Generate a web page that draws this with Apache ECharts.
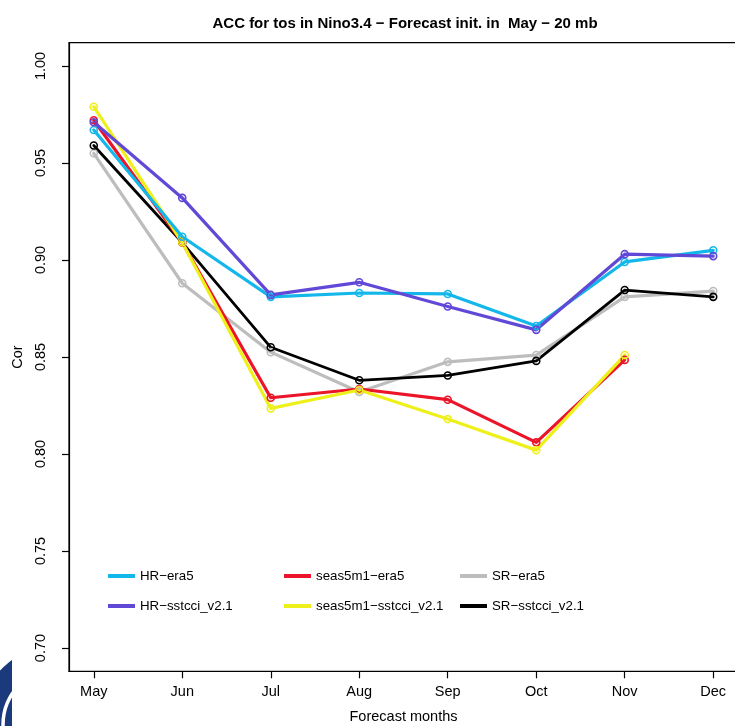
<!DOCTYPE html>
<html>
<head>
<meta charset="utf-8">
<script src="https://cdn.jsdelivr.net/npm/echarts@6/dist/echarts.min.js"></script>
<style>
html,body{margin:0;padding:0;background:#fff;}
#chart{width:735px;height:726px;}
</style>
</head>
<body>
<div id="chart"></div>
<script>
// ---- data ----
var months = ['May', 'Jun', 'Jul', 'Aug', 'Sep', 'Oct', 'Nov', 'Dec'];
var yTicks = [0.70, 0.75, 0.80, 0.85, 0.90, 0.95, 1.00];
var seriesNames = ['HR\u2212era5', 'HR\u2212sstcci_v2.1', 'seas5m1\u2212era5', 'seas5m1\u2212sstcci_v2.1', 'SR\u2212era5', 'SR\u2212sstcci_v2.1'];
var hrEra5   = [0.967, 0.912, 0.881, 0.883, 0.8825, 0.866, 0.899, 0.905];
var hrSst    = [0.971, 0.932, 0.882, 0.8885, 0.876, 0.864, 0.903, 0.902];
var seasEra5 = [0.972, 0.909, 0.829, 0.8335, 0.828, 0.806, 0.8485, null];
var seasSst  = [0.979, 0.909, 0.8235, 0.833, 0.818, 0.802, 0.851, null];
var srEra5   = [0.955, 0.888, 0.8525, 0.832, 0.8475, 0.851, 0.881, 0.884];
var srSst    = [0.959, 0.909, 0.855, 0.838, 0.8405, 0.848, 0.8845, 0.881];

var colors = {};
colors[seriesNames[0]] = '#13B7E9';
colors[seriesNames[1]] = '#6248D6';
colors[seriesNames[2]] = '#EC1428';
colors[seriesNames[3]] = '#EEF01C';
colors[seriesNames[4]] = '#BDBDBD';
colors[seriesNames[5]] = '#000000';

var valuesByName = {};
valuesByName[seriesNames[0]] = hrEra5;
valuesByName[seriesNames[1]] = hrSst;
valuesByName[seriesNames[2]] = seasEra5;
valuesByName[seriesNames[3]] = seasSst;
valuesByName[seriesNames[4]] = srEra5;
valuesByName[seriesNames[5]] = srSst;

var FONT = 'Liberation Sans, Arial, Helvetica, sans-serif';
var drawOrder = [seriesNames[4], seriesNames[5], seriesNames[2], seriesNames[3], seriesNames[0], seriesNames[1]];

function makeSeries(name) {
  var vals = valuesByName[name];
  var data = [];
  for (var i = 0; i < vals.length; i++) {
    if (vals[i] !== null) data.push([i, vals[i]]);
  }
  var c = colors[name];
  return {
    name: name,
    type: 'line',
    data: data,
    symbol: 'circle',
    symbolSize: 7,
    color: c,
    lineStyle: { color: c, width: name === seriesNames[5] ? 2.8 : 3.2, cap: 'round', join: 'round' },
    itemStyle: { color: 'rgba(0,0,0,0)', borderColor: c, borderWidth: 1.6 },
    emphasis: { disabled: true },
    animation: false
  };
}

function legendItem(name) {
  return { name: name, icon: 'rect', itemStyle: { color: colors[name], borderWidth: 0 } };
}
function makeLegend(left, names) {
  return {
    left: left, top: 564, orient: 'vertical',
    itemWidth: 27, itemHeight: 4, itemGap: 16,
    selectedMode: false,
    data: names.map(legendItem),
    textStyle: { fontFamily: FONT, fontSize: 13.3, color: '#000', lineHeight: 14 }
  };
}

// logo fragment at bottom-left corner
var graphics = [
  { type: 'circle', z: -20, shape: { cx: 60, cy: 725, r: 81 }, style: { fill: '#1B3A7C' } },
  { type: 'circle', z: -19, shape: { cx: 60, cy: 725, r: 57 }, style: { fill: 'none', stroke: '#ffffff', lineWidth: 3.5 } },
  { type: 'rect', z: -18, shape: { x: 12, y: 630, width: 160, height: 96 }, style: { fill: '#ffffff' } }
];

var chart = echarts.init(document.getElementById('chart'), null, { renderer: 'canvas' });
chart.setOption({
  animation: false,
  backgroundColor: '#ffffff',
  title: {
    text: 'ACC for tos in Nino3.4 \u2212 Forecast init. in  May \u2212 20 mb',
    left: 400, top: 11, textAlign: 'center',
    textStyle: { fontFamily: FONT, fontSize: 15, fontWeight: 'bold', color: '#000' }
  },
  graphic: graphics,
  grid: { left: 69, top: 42.7, width: 669, height: 628.6, show: true, borderColor: '#000', borderWidth: 1.2,
    backgroundColor: 'transparent', containLabel: false, outerBoundsMode: 'none' },
  legend: [
    makeLegend(103, [seriesNames[0], seriesNames[1]]),
    makeLegend(279, [seriesNames[2], seriesNames[3]]),
    makeLegend(455, [seriesNames[4], seriesNames[5]])
  ],
  xAxis: {
    type: 'value', min: -0.28, max: 7.28,
    name: 'Forecast months', nameLocation: 'middle', nameGap: 38,
    nameTextStyle: { fontFamily: FONT, fontSize: 14.5, color: '#000' },
    axisLine: { show: true, onZero: false, lineStyle: { color: '#000', width: 1.2 } },
    axisTick: { show: true, length: 7, lineStyle: { color: '#000', width: 1.2 }, customValues: months.map(function (m, i) { return i; }) },
    axisLabel: { show: true, margin: 13, fontFamily: FONT, fontSize: 14.5, color: '#000',
      customValues: months.map(function (m, i) { return i; }),
      formatter: function (v) { return months[Math.round(v)]; } },
    splitLine: { show: false }
  },
  yAxis: {
    type: 'value', min: 0.688, max: 1.012,
    name: 'Cor', nameLocation: 'middle', nameGap: 43, nameRotate: 90,
    nameTextStyle: { fontFamily: FONT, fontSize: 14.5, color: '#000' },
    axisLine: { show: true, onZero: false, lineStyle: { color: '#000', width: 1.2 } },
    axisTick: { show: true, length: 7, lineStyle: { color: '#000', width: 1.2 }, customValues: yTicks },
    axisLabel: { show: true, margin: 21, rotate: 90, fontFamily: FONT, fontSize: 14.5, color: '#000',
      customValues: yTicks,
      formatter: function (v) { return v.toFixed(2); } },
    splitLine: { show: false }
  },
  series: drawOrder.map(makeSeries)
});
</script>
</body>
</html>
